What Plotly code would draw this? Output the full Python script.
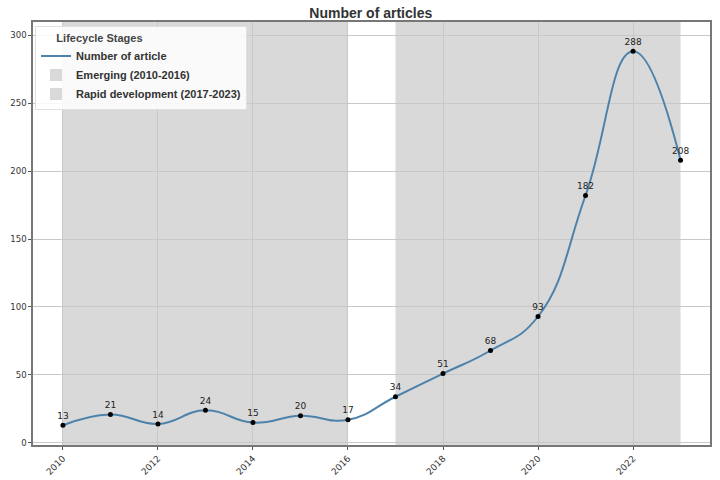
import plotly.graph_objects as go

years = list(range(2010, 2024))
articles = [13, 21, 14, 24, 15, 20, 17, 34, 51, 68, 93, 182, 288, 208]
stages = [("Emerging (2010-2016)", 2010, 2016), ("Rapid development (2017-2023)", 2017, 2023)]

fig = go.Figure()

fig.add_trace(go.Scatter(
    x=years, y=articles, mode="lines", name="<b>Number of article</b>",
    line=dict(color="#4d82ab", width=2, shape="spline", smoothing=1.3),
))
fig.add_trace(go.Scatter(
    x=years, y=articles, mode="markers+text", showlegend=False,
    marker=dict(color="black", size=5),
    text=[str(v) for v in articles], textposition="top center",
    textfont=dict(family="DejaVu Sans", size=9, color="#222222"),
))

for name, x0, x1 in stages:
    fig.add_vrect(x0=x0, x1=x1, fillcolor="#d9d9d9", opacity=1, line_width=0,
                  layer="below", showlegend=True, name="<b>" + name + "</b>")

fig.update_layout(
    width=720, height=480,
    margin=dict(l=33, r=10, t=22, b=35),
    plot_bgcolor="white", paper_bgcolor="white",
    title=dict(text="<b>Number of articles</b>", x=0.515, xanchor="center", y=0.983, yanchor="top",
               font=dict(family="Liberation Sans", size=14, color="#333333")),
    legend=dict(
        title=dict(text="<b>      Lifecycle Stages</b>", font=dict(family="Liberation Sans", size=11, color="#444444")),
        x=0.003, y=0.99, xanchor="left", yanchor="top",
        bgcolor="rgba(255,255,255,0.85)", bordercolor="#e0e0e0", borderwidth=1,
        font=dict(family="Liberation Sans", size=11, color="#333333"),
        tracegroupgap=0, itemwidth=30,
    ),
    showlegend=True,
)
fig.update_xaxes(
    range=[2009.37, 2023.62], tickvals=list(range(2010, 2024, 2)), tickangle=-45,
    tickfont=dict(family="DejaVu Sans", size=9, color="#333333"),
    showgrid=True, gridcolor="#c8c8c8", gridwidth=1, automargin=False,
    showline=True, linecolor="#777777", linewidth=1.5, mirror=True,
    ticks="outside", ticklen=3, tickcolor="#555555", zeroline=False,
)
fig.update_yaxes(
    range=[-1.5, 309.6], tickvals=list(range(0, 301, 50)),
    tickfont=dict(family="DejaVu Sans", size=8.5, color="#333333"),
    showgrid=True, gridcolor="#c8c8c8", gridwidth=1, automargin=False,
    showline=True, linecolor="#777777", linewidth=1.5, mirror=True,
    ticks="outside", ticklen=3, tickcolor="#555555", zeroline=False,
)

# page body has a default margin; drop it so the figure fills the window
fig.write_html("out.html", config={"displayModeBar": False},
               post_script="document.body.style.margin='0';")
